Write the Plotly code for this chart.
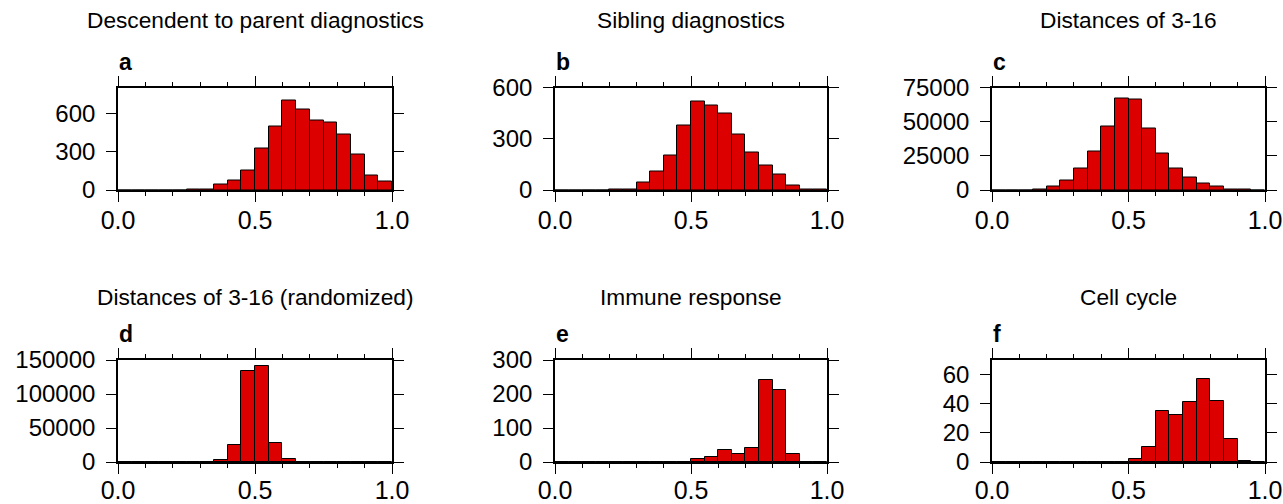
import plotly.graph_objects as go

# ---- data ----
bin_centers = [0.025, 0.075, 0.125, 0.175, 0.225, 0.275, 0.325, 0.375, 0.425, 0.475,
               0.525, 0.575, 0.625, 0.675, 0.725, 0.775, 0.825, 0.875, 0.925, 0.975]
bin_width = 0.05

titles = ["Descendent to parent diagnostics", "Sibling diagnostics", "Distances of 3-16",
          "Distances of 3-16 (randomized)", "Immune response", "Cell cycle"]
letters = ["a", "b", "c", "d", "e", "f"]

counts_a = [0, 0, 0, 0, 0, 2, 5, 46, 77, 152, 327, 492, 700, 628, 543, 523, 430, 278, 113, 70]
counts_b = [0, 0, 0, 0, 3, 4, 45, 109, 204, 377, 516, 493, 447, 324, 221, 146, 91, 27, 5, 5]
counts_c = [0, 0, 0, 300, 2450, 7100, 15400, 28400, 46600, 66900, 65900, 45300, 26500,
            15700, 8800, 4900, 2200, 500, 100, 0]
counts_d = [0, 0, 0, 0, 0, 0, 200, 3000, 24600, 134200, 141100, 27500, 3900, 300,
            0, 0, 0, 0, 0, 0]
counts_e = [0, 0, 0, 0, 0, 0, 0, 0, 0, 0, 10, 15, 35, 24, 41, 240, 211, 24, 0, 0]
counts_f = [0, 0, 0, 0, 0, 0, 0, 0, 0, 0, 2, 10, 35, 32, 41, 57, 42, 16, 1, 0]

y_ranges = [[0, 800], [0, 600], [0, 75000], [0, 150000], [0, 300], [0, 70]]
y_ticks = [[0, 300, 600], [0, 300, 600], [0, 25000, 50000, 75000],
           [0, 50000, 100000, 150000], [0, 100, 200, 300], [0, 20, 40, 60]]
x_ticks = [0.0, 0.5, 1.0]
x_ticktext = ["0.0", "0.5", "1.0"]

all_counts = [counts_a, counts_b, counts_c, counts_d, counts_e, counts_f]

# ---- layout geometry (page pixels; body margin removed via post_script) ----
W, H = 1283, 504
x_px = [(118, 392), (555, 827), (992, 1265)]
y_px = [(87.5, 190), (360, 462)]

BAR_COLOR = "#dd0000"
FONT = "Liberation Sans, Arial, Helvetica, sans-serif"


def px_x(v):
    return v / W


def px_y(v):
    return 1 - v / H


fig = go.Figure()
layout = dict(width=W, height=H, margin=dict(l=0, r=0, t=0, b=0, autoexpand=False),
              plot_bgcolor="white", paper_bgcolor="white", showlegend=False,
              bargap=0, annotations=[])

for i in range(6):
    r, c = divmod(i, 3)
    n = i + 1
    xa = "x" if n == 1 else f"x{n}"
    ya = "y" if n == 1 else f"y{n}"
    fig.add_trace(go.Bar(x=bin_centers, y=all_counts[i], width=bin_width,
                         marker=dict(color=BAR_COLOR, line=dict(color="black", width=1)),
                         xaxis=xa, yaxis=ya, hoverinfo="x+y"))
    x0, x1 = x_px[c]
    yt, yb = y_px[r]
    xd = [px_x(x0), px_x(x1)]
    yd = [px_y(yb), px_y(yt)]
    xkey = "xaxis" if n == 1 else f"xaxis{n}"
    ykey = "yaxis" if n == 1 else f"yaxis{n}"
    layout[xkey] = dict(domain=xd, anchor=ya, range=[0, 1], tickvals=x_ticks,
                        ticktext=x_ticktext, ticks="outside", ticklen=10, tickwidth=1.2,
                        tickcolor="black", showline=True, linecolor="black", linewidth=1.6,
                        mirror="ticks", showgrid=False, zeroline=False, automargin=False,
                        ticklabelstandoff=-3 if r == 0 else -5,
                        minor=dict(dtick=0.1, tick0=0, ticks="outside", ticklen=4,
                                   tickwidth=1, tickcolor="black", showgrid=False),
                        tickfont=dict(family=FONT, size=25, color="black"),
                        fixedrange=True)
    layout[ykey] = dict(domain=yd, anchor=xa, range=y_ranges[i], tickvals=y_ticks[i],
                        ticktext=[str(v) for v in y_ticks[i]],
                        ticks="outside", ticklen=10, tickwidth=1.2, tickcolor="black",
                        showline=True, linecolor="black", linewidth=1.6, mirror="ticks",
                        showgrid=False, zeroline=False, ticklabelstandoff=6, automargin=False,
                        tickfont=dict(family=FONT, size=24, color="black"),
                        fixedrange=True)
    title_y = 20 if r == 0 else 297
    letter_y = 62 if r == 0 else 334
    layout["annotations"].append(dict(
        text=titles[i], xref="paper", yref="paper", x=px_x((x0 + x1) / 2),
        y=px_y(title_y), xanchor="center", yanchor="middle", showarrow=False,
        font=dict(family=FONT, size=22.7, color="black")))
    layout["annotations"].append(dict(
        text=f"<b>{letters[i]}</b>", xref="paper", yref="paper", x=px_x(x0 - 1),
        y=px_y(letter_y), xanchor="left", yanchor="middle", showarrow=False,
        font=dict(family=FONT, size=23, color="black")))

fig.update_layout(**layout)
fig.write_html("out.html", config={"displayModeBar": False},
               post_script="document.body.style.margin='0';"
                           "document.body.style.overflow='hidden';")
